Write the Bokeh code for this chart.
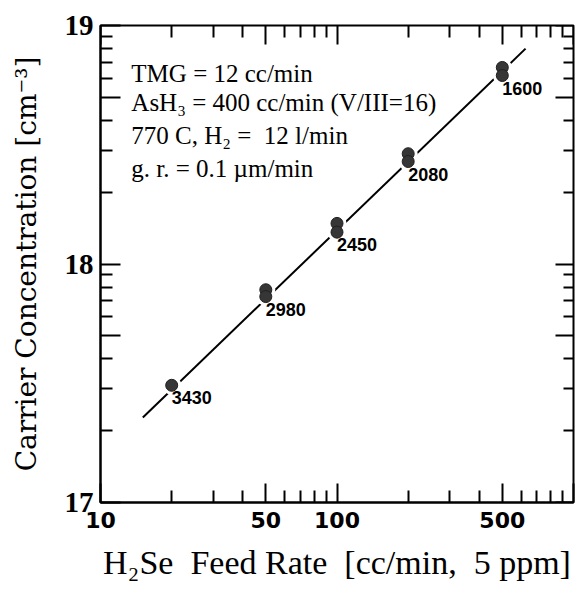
from bokeh.plotting import figure
from bokeh.models import LogAxis, FixedTicker, Label
from bokeh.embed import file_html
from bokeh.resources import INLINE
from bokeh.core.properties import value

# ---- data ----
feed_rate = [20, 50, 50, 100, 100, 200, 200, 500, 500]          # cc/min
carrier = [3.1e17, 7.8e17, 7.3e17, 1.48e18, 1.36e18,
           2.90e18, 2.69e18, 6.67e18, 6.17e18]                    # cm^-3

label_x = [20, 50, 100, 200, 500]
label_y = [3.1e17, 7.3e17, 1.36e18, 2.69e18, 6.17e18]
label_text = ["3430", "2980", "2450", "2080", "1600"]

fit_x = [15.1, 627]
fit_y = [2.27e17, 8.0e18]

x_start, x_end = 10, 1000
y_start, y_end = 1e17, 1e19

x_major = [10, 50, 100, 500, 1000]
x_major_labels = ["10", "50", "100", "500", ""]
x_minor = [20, 30, 40, 60, 70, 80, 90, 200, 300, 400, 600, 700, 800, 900]

y_major = [1e17, 5e17, 1e18, 5e18, 1e19]
y_major_labels = ["17", "", "18", "", "19"]
y_minor = [2e17, 3e17, 4e17, 6e17, 7e17, 8e17, 9e17,
           2e18, 3e18, 4e18, 6e18, 7e18, 8e18, 9e18]

x_title = "H\u2082Se\u00a0 Feed Rate\u00a0 [cc/min,\u00a0 5 ppm]"
y_title = "Carrier Concentration [cm\u207b\u00b3]"

notes = ["TMG = 12 cc/min",
         "AsH\u2083 = 400 cc/min (V/III=16)",
         "770 C, H\u2082 =\u00a0 12 l/min",
         "g. r. = 0.1 \u00b5m/min"]
notes_y = [6.30e18, 4.75e18, 3.46e18, 2.51e18]
notes_x = 13.5

p = figure(width=584, height=589, x_axis_type="log", y_axis_type="log",
           x_range=(x_start, x_end), y_range=(y_start, y_end),
           output_backend="svg", toolbar_location=None, title=None,
           min_border_left=100, min_border_right=11,
           min_border_top=25, min_border_bottom=87)
p.xgrid.visible = False
p.ygrid.visible = False
p.outline_line_color = "black"
p.outline_line_width = 2
p.background_fill_color = "white"
p.border_fill_color = "white"

# ---- bottom axis (long ticks + labels + title) ----
xa = p.xaxis[0]
xa.ticker = FixedTicker(ticks=x_major)
xa.major_label_overrides = {t: s for t, s in zip(x_major, x_major_labels)}
xa.major_tick_in = 19
xa.major_tick_out = 0
xa.minor_tick_line_color = None
xa.major_tick_line_width = 2
xa.axis_line_width = 2
xa.major_label_standoff = 9
xa.major_label_text_font = "DejaVu Sans"
xa.major_label_text_font_style = "bold"
xa.major_label_text_font_size = "22px"
xa.major_label_text_color = "black"
xa.axis_label = x_title
xa.axis_label_text_font = "Liberation Serif"
xa.axis_label_text_font_style = "normal"
xa.axis_label_text_font_size = "34px"
xa.axis_label_text_color = "black"
xa.axis_label_standoff = 13

# ---- left axis (long ticks + labels + title) ----
ya = p.yaxis[0]
ya.ticker = FixedTicker(ticks=y_major)
ya.major_label_overrides = {t: s for t, s in zip(y_major, y_major_labels)}
ya.major_tick_in = 20
ya.major_tick_out = 0
ya.minor_tick_line_color = None
ya.major_tick_line_width = 2
ya.axis_line_width = 2
ya.major_label_standoff = 7
ya.major_label_text_font = "Liberation Sans Narrow"
ya.major_label_text_font_style = "bold"
ya.major_label_text_font_size = "29px"
ya.major_label_text_color = "black"
ya.axis_label = y_title
ya.axis_label_text_font = "DejaVu Serif"
ya.axis_label_text_font_style = "normal"
ya.axis_label_text_font_size = "28px"
ya.axis_label_text_color = "black"
ya.axis_label_standoff = 19


def edge_axis(ticks, loc, length):
    return LogAxis(ticker=FixedTicker(ticks=ticks), fixed_location=loc,
                   major_label_text_color=None, major_label_text_font_size="0px",
                   major_tick_in=length, major_tick_out=0,
                   minor_tick_line_color=None, axis_line_color=None,
                   major_tick_line_width=2)


# short (minor) ticks on all four sides, long ticks on top and right
p.add_layout(edge_axis(x_minor, y_start, 12), "below")
p.add_layout(edge_axis(x_minor, y_end, 12), "above")
p.add_layout(edge_axis(x_major, y_end, 19), "above")
p.add_layout(edge_axis(y_minor, x_start, 12), "left")
p.add_layout(edge_axis(y_minor, x_end, 10), "right")
p.add_layout(edge_axis(y_major, x_end, 18), "right")

# fitted line, white halos (gaps), then the data points
p.line(fit_x, fit_y, line_color="black", line_width=2)
p.scatter(feed_rate, carrier, size=19, fill_color="white", line_color=None)
p.scatter(feed_rate, carrier, size=12, fill_color="#363636",
          line_color="#202020", line_width=1)

p.text(x=label_x, y=label_y, text=label_text, x_offset=0, y_offset=6,
       text_align="left", text_baseline="top",
       text_font=value("Liberation Sans"), text_font_style="bold",
       text_font_size="18px", text_color="black")

for t, yy in zip(notes, notes_y):
    p.add_layout(Label(x=notes_x, y=yy, text=t, text_font="Liberation Serif",
                       text_font_size="25px", text_color="black",
                       text_baseline="alphabetic", text_align="left"))

open("out.html", "w").write(file_html(p, INLINE))
